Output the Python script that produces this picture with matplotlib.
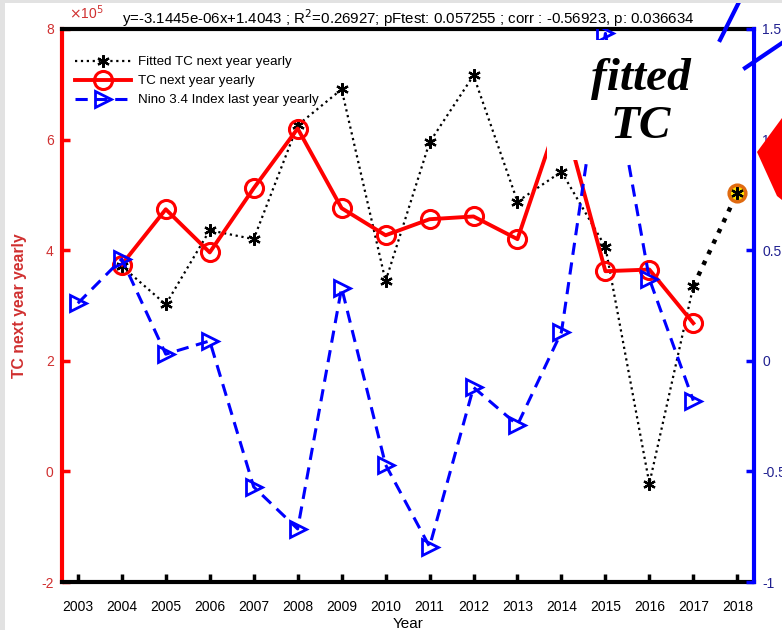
import matplotlib
matplotlib.use("Agg")
import matplotlib.pyplot as plt
from matplotlib.patches import Rectangle, Polygon
from matplotlib.lines import Line2D

plt.rcParams['font.family'] = ['Liberation Sans', 'DejaVu Sans']

years = [2003, 2004, 2005, 2006, 2007, 2008, 2009, 2010, 2011,
         2012, 2013, 2014, 2015, 2016, 2017, 2018]

# TC next year yearly (x 1e5), no value for 2003 and 2018
tc_years = [2004, 2005, 2006, 2007, 2008, 2009, 2010, 2011, 2012,
            2013, 2014, 2015, 2016, 2017]
tc = [3.74, 4.74, 3.96, 5.12, 6.20, 4.76, 4.27, 4.56, 4.61,
      4.20, 6.55, 3.62, 3.65, 2.68]

# fitted TC (x 1e5)
fit_years = [2004, 2005, 2006, 2007, 2008, 2009, 2010, 2011, 2012,
             2013, 2014, 2015, 2016, 2017, 2018]
fitted = [3.71, 3.02, 4.36, 4.20, 6.26, 6.91, 3.44, 5.95, 7.16,
          4.88, 5.42, 4.06, -0.22, 3.35, 5.04]

# Nino 3.4 index of the previous year
nino_years = [2003, 2004, 2005, 2006, 2007, 2008, 2009, 2010, 2011,
              2012, 2013, 2014, 2015, 2016, 2017]
nino = [0.26, 0.46, 0.03, 0.09, -0.57, -0.76, 0.33, -0.47, -0.84,
        -0.12, -0.29, 0.13, 1.48, 0.37, -0.18]

left_ticks = [-2, 0, 2, 4, 6, 8]
right_ticks = [-1, -0.5, 0, 0.5, 1, 1.5]
right_labels = ['-1', '-0.5', '0', '0.5', '1', '1.5']

title = ("y=-3.1445e-06x+1.4043 ; R$^2$=0.26927; pFtest: 0.057255 ; "
         "corr : -0.56923, p: 0.036634")

RED = '#ff0000'
BLUE = '#0000ff'
LRED = '#d03030'
LBLUE = '#202090'

fig = plt.figure(figsize=(7.82, 6.3), dpi=100)
fig.patch.set_facecolor('white')
ax = fig.add_axes([62/782, 48/630, 692/782, 553/630])
ax2 = ax.twinx()

ax.plot(fit_years[:-1], fitted[:-1], ':', color='black', lw=1.6,
        marker=(6, 2, 0), ms=9, mew=1.6, label='Fitted TC next year yearly', zorder=3)
ax.plot(fit_years[-2:], fitted[-2:], ':', color='black', lw=3.2, zorder=3)
ax.plot(tc_years, tc, '-', color=RED, lw=2.8, marker='o', ms=13, mew=2.2,
        mfc='none', label='TC next year yearly', zorder=4)
ax.plot(fit_years[-1], fitted[-1], 'o', ms=12, mfc='#ffe000', mec='#e06a10',
        mew=2.5, zorder=5)
ax.plot(fit_years[-1], fitted[-1], marker=(6, 2, 0), ms=9, mew=1.6,
        color='black', ls='none', zorder=6)

ax2.plot(nino_years, nino, '--', color=BLUE, lw=2.2, dashes=(4, 2.5),
         marker='>', ms=12, mew=2, mfc='none', label='Nino 3.4 Index last year yearly')

ax.set_xlim(2002.64, 2018.38)
ax.set_ylim(-2, 8)
ax2.set_ylim(-1, 1.5)
ax.set_xticks(years)
ax.set_yticks(left_ticks)
ax.set_yticklabels([str(t) for t in left_ticks])
ax2.set_yticks(right_ticks)
ax2.set_yticklabels(right_labels)

for a in (ax, ax2):
    for s in a.spines.values():
        s.set_linewidth(3)
ax.spines['left'].set_color(RED)
ax.spines['bottom'].set_color('black')
ax.spines['top'].set_color('black')
ax2.spines['right'].set_color(BLUE)
ax2.spines['left'].set_visible(False)
ax2.spines['top'].set_visible(False)
ax2.spines['bottom'].set_visible(False)
ax.spines['right'].set_visible(False)

ax.tick_params(axis='x', direction='in', length=6, width=2.5, colors='black',
               labelsize=10, pad=13, top=False)
ax.tick_params(axis='y', direction='in', length=6, width=2.5, colors=RED,
               labelcolor=LRED, labelsize=10, pad=6)
ax2.tick_params(axis='y', direction='in', length=6, width=2.5, colors=BLUE,
                labelcolor=LBLUE, labelsize=10, pad=6)

ax.set_xlabel('Year', fontsize=11, labelpad=2)
ax.set_ylabel('TC next year yearly', fontsize=11.3, fontweight='bold', color=LRED, labelpad=10)
ax.text(0.01, 1.012, r'$\times$10$^5$', transform=ax.transAxes, color=LRED,
        fontsize=10, ha='left', va='bottom')
ax.set_title(title, fontsize=10.8, pad=2)

h1, l1 = ax.get_legend_handles_labels()
h2, l2 = ax2.get_legend_handles_labels()
leg = ax2.legend(h1 + h2, l1 + l2, loc='upper left', bbox_to_anchor=(0.0, 0.975),
                 frameon=False, fontsize=9.6, handlelength=4.2, handletextpad=0.5,
                 labelspacing=0.5, borderaxespad=0.6)

# white annotation box covering the upper right corner
fig.patches.append(Rectangle((547/782, 1 - 160/630), 205/782, 120/630,
                             transform=fig.transFigure, facecolor='white',
                             edgecolor='none', zorder=10))
fig.text(641/782, 1 - 103/630, 'fitted\nTC', ha='center', va='center',
         family='Liberation Serif', style='italic', fontweight='bold',
         fontsize=34, linespacing=1.2, zorder=11)

# stray overlay strokes and arrow head
fig.lines.append(Line2D([720/782, 740/782], [1 - 40/630, 1 - 0/630],
                        transform=fig.transFigure, color=BLUE, lw=3, zorder=12))
fig.lines.append(Line2D([745/782, 782/782], [1 - 68/630, 1 - 43/630],
                        transform=fig.transFigure, color=BLUE, lw=3, zorder=12))
fig.patches.append(Polygon([(757/782, 1 - 152/630), (782/782, 1 - 118/630),
                            (782/782, 1 - 200/630), (777/782, 1 - 196/630)],
                           closed=True, transform=fig.transFigure,
                           facecolor=RED, edgecolor='none', zorder=12))

# grey screenshot edges
fig.patches.append(Rectangle((0, 0), 5/782, 1, transform=fig.transFigure,
                             facecolor='#e2e2e2', edgecolor='none', zorder=13))
fig.patches.append(Rectangle((0, 1 - 3/630), 1, 3/630, transform=fig.transFigure,
                             facecolor='#e2e2e2', edgecolor='none', zorder=13))

fig.savefig('out.png', dpi=100)
